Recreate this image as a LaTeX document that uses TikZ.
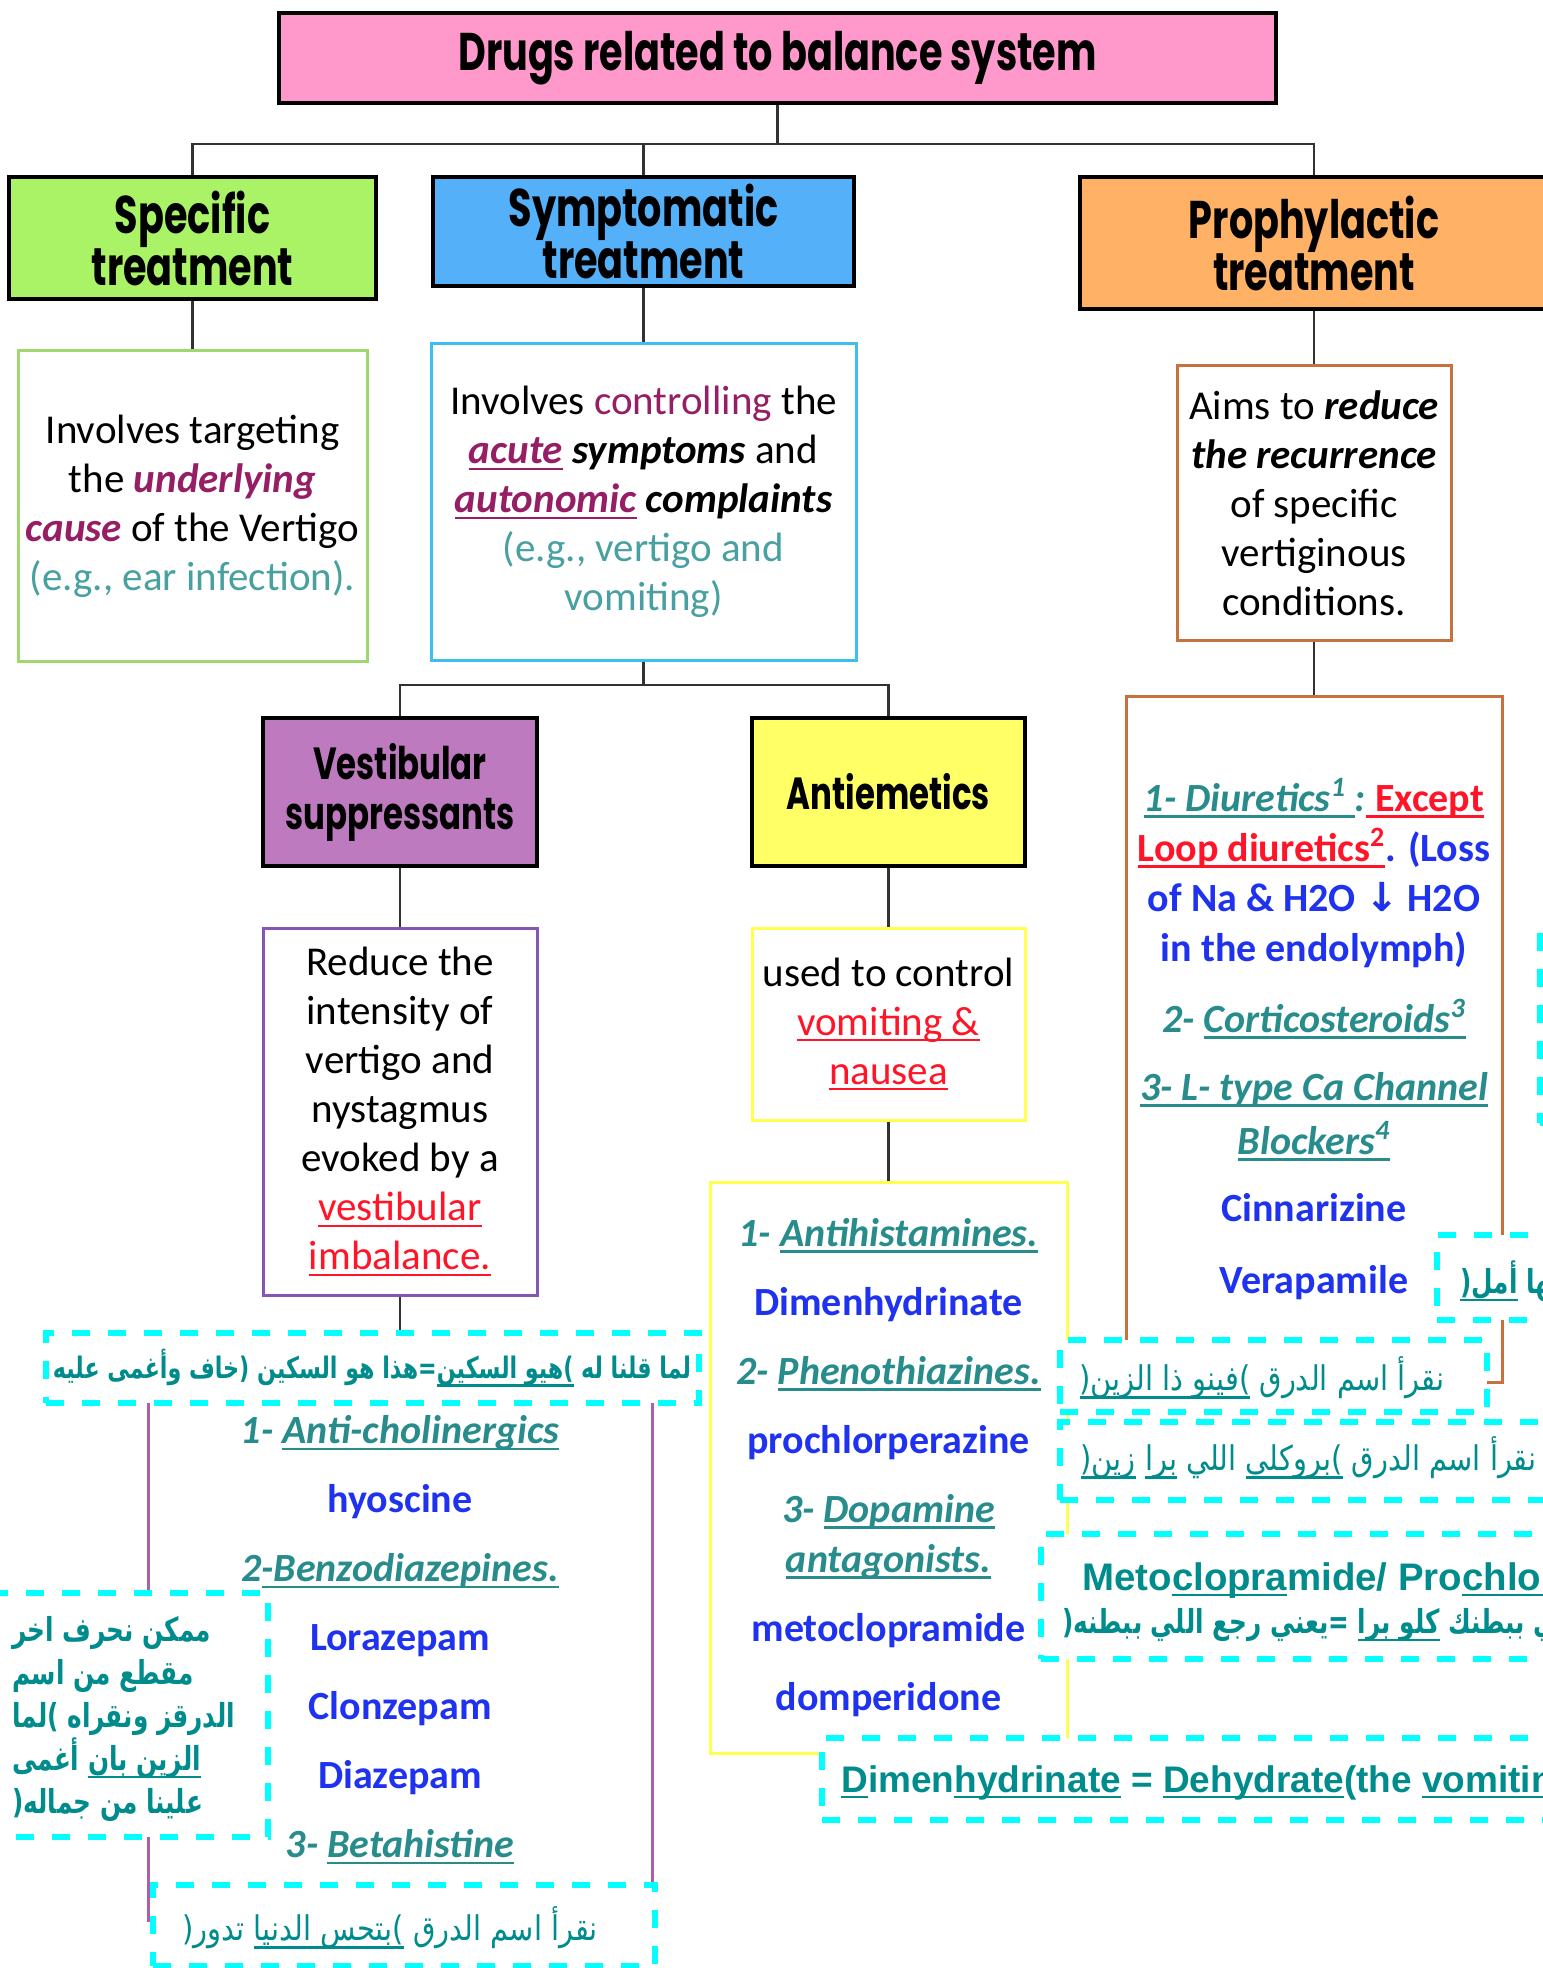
\documentclass[tikz,border=0pt]{standalone}
\usepackage{fontspec}
\usetikzlibrary{fit}
\TeXXeTstate=1
\setmainfont{Carlito}
\newfontfamily\hdfont[FakeStretch=0.72]{Poppins}
\newfontfamily\arabicfont[Script=Arabic,FakeStretch=0.85,BoldFeatures={FakeStretch=0.75}]{DejaVu Sans}
\newfontfamily\lsans{Liberation Sans}
\newfontfamily\symfont{DejaVu Sans}

\definecolor{titlepink}{RGB}{255,153,204}
\definecolor{specgreen}{RGB}{170,242,102}
\definecolor{symblue}{RGB}{84,176,248}
\definecolor{proorange}{RGB}{255,178,102}
\definecolor{vestpurple}{RGB}{190,122,190}
\definecolor{antiyellow}{RGB}{255,255,102}
\definecolor{specline}{RGB}{160,215,110}
\definecolor{symline}{RGB}{60,190,240}
\definecolor{proline}{RGB}{200,112,62}
\definecolor{vestline}{RGB}{135,85,180}
\definecolor{listpurple}{RGB}{172,95,172}
\definecolor{yellowline}{RGB}{255,255,80}
\definecolor{mag}{RGB}{150,30,100}
\definecolor{softteal}{RGB}{72,160,160}
\definecolor{lteal}{RGB}{40,140,140}
\definecolor{lblue}{RGB}{30,50,240}
\definecolor{alertred}{RGB}{255,20,40}
\definecolor{dashcyan}{RGB}{0,255,255}
\definecolor{arteal}{RGB}{0,140,140}
\definecolor{connc}{RGB}{50,50,50}

% underline drawn at a fixed depth below the baseline
\newcommand\ulbox[2][3.2pt]{\leavevmode\hbox{\setbox0\hbox{#2}\rlap{\rule[-#1]{\wd0}{1.2pt}}\box0}}
\newcommand\aul[1]{\ulbox[4pt]{\beginR#1\endR}}
\newcommand\bi[1]{{\bfseries\itshape #1}}

\begin{document}
\begin{tikzpicture}[x=0.5pt,y=-0.5pt,
  sz/.style 2 args={minimum width=#1*0.5pt, minimum height=#2*0.5pt},
  hdr/.style={draw=black, line width=1.6pt, inner sep=0pt, align=center,
    font=\hdfont\bfseries\fontsize{26.5}{26}\selectfont},
  hdrs/.style={hdr, font=\hdfont\bfseries\fontsize{22.5}{25}\selectfont},
  desc/.style={draw, fill=white, line width=1.5pt, inner sep=0pt, align=center,
    font=\fontsize{20.5}{24.5}\selectfont},
  lst/.style={draw, fill=white, line width=1.5pt, inner sep=0pt, align=center,
    font=\bfseries\fontsize{20}{25}\selectfont},
  conn/.style={line width=1.2pt, draw=connc},
  dbox/.style={draw=dashcyan, fill=white, line width=2.6pt, dash pattern=on 9pt off 9pt, inner sep=0pt},
  arb/.style={text=arteal, inner sep=0pt, font=\arabicfont\bfseries\fontsize{16.5}{21.5}\selectfont},
  arr/.style={text=arteal, inner sep=0pt, font=\arabicfont\fontsize{17}{21.5}\selectfont},
  lat/.style={text=arteal, inner sep=0pt, font=\lsans\bfseries\fontsize{18.5}{22}\selectfont}]

\useasboundingbox (0,0) rectangle (1542,1968);
\fill[white] (0,0) rectangle (1542,1968);

% ---------- top level ----------
\node[hdr, fill=titlepink, sz={997}{90}] (title) at (777.5,58) {Drugs related to balance system};
\node[hdr, fill=specgreen, sz={367}{122}] (spec) at (192.5,238) {Specific\\treatment};
\node[hdr, fill=symblue, sz={421}{109}] (sym) at (643.5,231.5) {Symptomatic\\treatment};
\node[hdr, fill=proorange, sz={468}{132}] (pro) at (1314,243) {Prophylactic\\treatment};

\coordinate (bus) at (777.5,144);
\draw[conn] (title.south) -- (bus);
\draw[conn] (bus) -| (spec.north);
\draw[conn] (bus) -| (sym.north);
\draw[conn] (bus) -| (pro.north);

% ---------- descriptions ----------
\node[desc, draw=specline, sz={349}{310}] (specD) at (192.5,506) {%
  Involves targeting\\
  the {\color{mag}\bi{underlying}}\\
  {\color{mag}\bi{cause}} of the Vertigo\\
  {\color{softteal}(e.g., ear infection).}};
\node[desc, draw=symline, sz={425}{316}] (symD) at (643.5,502) {%
  Involves {\color{mag}controlling} the\\
  {\color{mag}\ulbox{\bi{acute}}} \bi{symptoms} and\\
  {\color{mag}\ulbox{\bi{autonomic}}} \bi{complaints}\\
  {\color{softteal}(e.g., vertigo and}\\
  {\color{softteal}vomiting)}};
\node[desc, draw=proline, sz={274}{274}] (proD) at (1314,503) {%
  Aims to \bi{reduce}\\
  \bi{the recurrence}\\
  of specific\\
  vertiginous\\
  conditions.};
\draw[conn] (spec.south) -- (specD.north);
\draw[conn] (sym.south) -- (symD.north);
\draw[conn] (pro.south) -- (proD.north);

% ---------- symptomatic branches ----------
\node[hdrs, fill=vestpurple, sz={274}{148}] (vest) at (400,792) {Vestibular\\suppressants};
\node[hdrs, fill=antiyellow, sz={273}{148}] (anti) at (888.5,792) {Antiemetics};
\coordinate (bus2) at (643.5,685);
\draw[conn] (symD.south) -- (bus2);
\draw[conn] (bus2) -| (vest.north);
\draw[conn] (bus2) -| (anti.north);

\node[desc, draw=vestline, sz={274}{367}] (vestD) at (400,1111.5) {%
  Reduce the\\ intensity of\\ vertigo and\\ nystagmus\\ evoked by a\\
  {\color{alertred}\ulbox{vestibular}}\\
  {\color{alertred}\ulbox{imbalance.}}};
\node[desc, draw=yellowline, sz={273}{192}] (antiD) at (888.5,1024) {%
  used to control\\
  {\color{alertred}\ulbox{vomiting \&}}\\
  {\color{alertred}\ulbox{nausea}}};
\draw[conn] (vest.south) -- (vestD.north);
\draw[conn] (anti.south) -- (antiD.north);

% ---------- drug lists ----------
\node[lst, draw=yellowline, sz={357}{571}] (antiL) at (888.5,1467.5) {%
  {\color{lteal}\itshape 1- \ulbox{Antihistamines.}}\\[9.5pt]
  {\color{lblue}Dimenhydrinate}\\[9.5pt]
  {\color{lteal}\itshape 2- \ulbox{Phenothiazines.}}\\[9.5pt]
  {\color{lblue}prochlorperazine}\\[9.5pt]
  {\color{lteal}\itshape 3- \ulbox{Dopamine}}\\
  {\color{lteal}\itshape \ulbox{antagonists.}}\\[9.5pt]
  {\color{lblue}metoclopramide}\\[9.5pt]
  {\color{lblue}domperidone}};
\draw[conn] (antiD.south) -- (antiL.north);

\node[lst, draw=listpurple, sz={504}{560}] (vestL) at (400,1640) {%
  {\color{lteal}\itshape 1- \ulbox{Anti-cholinergics}}\\[9.5pt]
  {\color{lblue}hyoscine}\\[9.5pt]
  {\color{lteal}\itshape 2\ulbox{-Benzodiazepines.}}\\[9.5pt]
  {\color{lblue}Lorazepam}\\[9.5pt]
  {\color{lblue}Clonzepam}\\[9.5pt]
  {\color{lblue}Diazepam}\\[9.5pt]
  {\color{lteal}\itshape 3- \ulbox{Betahistine}}};
\draw[conn] (vestD.south) -- (vestL.north);

\node[lst, draw=proline, sz={376}{686}] (proL) at (1314,1039) {%
  {\color{lteal}\itshape\ulbox{1- Diuretics\textsuperscript{1}\ }:}{\color{alertred}\ulbox{\ Except}}\\
  {\color{alertred}\ulbox{Loop diuretics\textsuperscript{2}}}{\color{lblue}. (Loss}\\
  {\color{lblue}of Na \& H2O {\symfont\bfseries ↓} H2O}\\
  {\color{lblue}in the endolymph)}\\[10.5pt]
  {\color{lteal}\itshape 2- \ulbox{Corticosteroids\textsuperscript{3}}}\\[9pt]
  {\color{lteal}\itshape \ulbox{3- L- type Ca Channel}}\\[2pt]
  {\color{lteal}\itshape \ulbox{Blockers\textsuperscript{4}}}\\[8.5pt]
  {\color{lblue}Cinnarizine}\\[11pt]
  {\color{lblue}Verapamile}};
\draw[conn] (proD.south) -- (proL.north);

% ---------- memory-aid notes ----------
\node[dbox, fit={(1540,918) (1700,1123)}] (noteA) {};

\node[dbox, fit={(46,1333) (699,1403)}] (noteB) {};
\node[arb, font=\arabicfont\bfseries\fontsize{14.8}{20}\selectfont] (noteBt) at (372,1368)
  {\beginR لما قلنا له \aul{)هيو السكين}=هذا هو السكين (خاف وأغمى عليه\endR};

\node[dbox, fit={(-20,1593) (268,1837)}] (noteC) {};
\node[arb, align=left, anchor=north west] (noteCt) at (12,1616) {%
  \beginR ممكن نحرف اخر\endR\\
  \beginR مقطع من اسم\endR\\
  \beginR الدرقز ونقراه  )لما\endR\\
  \beginR \aul{الزين بان} أغمى\endR\\
  \beginR علينا من جماله(\endR};

\node[dbox, fit={(153,1885) (655,1966)}] (noteD) {};
\node[arr] (noteDt) at (390,1928) {\beginR نقرأ اسم الدرق  \aul{)بتحس الدنيا} تدور(\endR};

\node[dbox, fit={(1437,1235) (1620,1320)}] (noteE) {};
\node[arb, anchor=base west] (noteEt) at (1460,1293) {\beginR )فيها \aul{أمل(}\endR};

\node[dbox, fit={(1060,1340) (1487,1412)}] (noteF) {};
\node[arr] (noteFt) at (1262,1378) {\beginR نقرأ اسم الدرق \aul{)فينو ذا الزين(}\endR};

\node[dbox, fit={(1060,1422) (1620,1500)}] (noteG) {};
\node[arr, anchor=east] (noteGt) at (1537,1458) {\beginR نقرأ اسم الدرق \aul{)بروكلي} اللي \aul{برا} \aul{زين(}\endR};

\node[dbox, fit={(1041,1534) (1620,1659)}] (noteH) {};
\node[lat, font=\lsans\bfseries\fontsize{19.2}{22}\selectfont, anchor=base west] (noteHa) at (1082,1590)
  {Meto\ulbox{clopra}mide/ Pro\ulbox{chlorpera}zine};
\node[arb, anchor=base west] (noteHb) at (1062,1633) {\beginR )اللي ببطنك \aul{كلو برا} =يعني رجع اللي ببطنه(\endR};

\node[dbox, fit={(822,1738) (1620,1820)}] (noteI) {};
\node[lat, anchor=base west] (noteIt) at (841,1792)
  {\ulbox{D}imen\ulbox{hydrinate} = \ulbox{Dehydrate}(the \ulbox{vomiting})};
\end{tikzpicture}
\end{document}
